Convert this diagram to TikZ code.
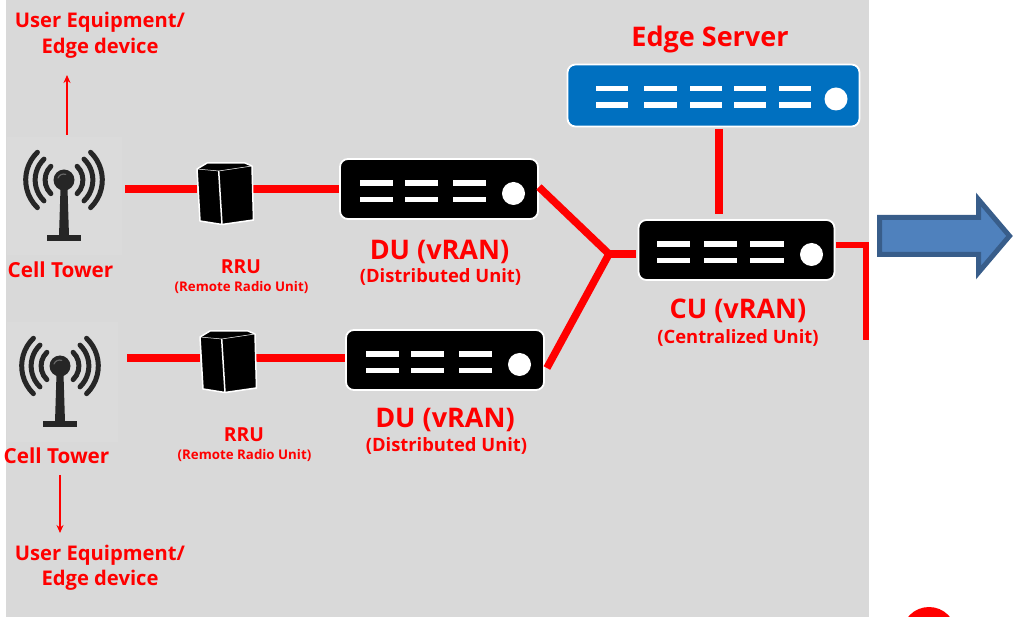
\documentclass[tikz,border=0pt]{standalone}
\usepackage{fontspec}
\setmainfont{Open Sans}
\usetikzlibrary{arrows.meta}
\definecolor{bgray}{HTML}{D9D9D9}
\definecolor{tgray}{HTML}{DBDBDB}
\definecolor{netred}{HTML}{FF0000}
\definecolor{srvblue}{HTML}{0070C0}
\definecolor{arrfill}{HTML}{4F81BD}
\definecolor{arrline}{HTML}{385D8A}
\definecolor{twr}{HTML}{262626}
\tikzset{
  x=1pt,y=-1pt,
  link/.style={draw=netred,line width=7.5pt},
  thinarrow/.style={draw=netred,line width=1.8pt,-{Stealth[length=8pt,width=7pt]}},
  srv/.style={fill=black,draw=white,line width=1.8pt,rounded corners=8pt,minimum width=#1,minimum height=60pt,inner sep=0pt},
  towerbox/.style={fill=tgray,draw=none,inner sep=0pt},
  slot/.style={minimum width=56pt,minimum height=70pt,inner sep=0pt},
  big/.style={text=netred,font=\bfseries\fontsize{27}{32}\selectfont,inner sep=0pt},
  mid/.style={text=netred,font=\bfseries\fontsize{18.4}{22}\selectfont,inner sep=0pt},
  lab/.style={text=netred,font=\bfseries\fontsize{20.2}{25.5}\selectfont,inner sep=0pt,align=center},
  rrul/.style={text=netred,font=\bfseries\fontsize{19.3}{23}\selectfont,inner sep=0pt},
  tiny/.style={text=netred,font=\bfseries\fontsize{13.3}{16}\selectfont,inner sep=0pt},
  towername/.style={text=netred,font=\bfseries\fontsize{20.7}{25}\selectfont,inner sep=0pt},
  pics/bars/.style args={#1/#2}{code={
    \foreach \a/\b in {#1}{
      \fill[white] (\a,-8.7) rectangle (\b,-3.3);
      \fill[white] (\a,7.8) rectangle (\b,13.2);
    }
    \fill[white] (#2,4.5) circle[radius=11.5];
  }},
  pics/antenna/.style={code={
    \fill[twr] (-3.5,8) -- (3.5,8) -- (5,56) -- (-5,56) -- cycle;
    \fill[twr] (-17,55) rectangle (17,61);
    \fill[twr] (0,0) circle[radius=10.5];
    \draw[gray!70!twr,line width=1.2pt,line cap=round] (-6,-2) arc[start angle=200,end angle=290,radius=6];
    \foreach \r in {19,29,38.5}{
      \draw[twr,line width=5pt,line cap=round] (-\r*0.69,-\r*0.72) arc[start angle=226,end angle=134,radius=\r];
      \draw[twr,line width=5pt,line cap=round] (\r*0.69,-\r*0.72) arc[start angle=-46,end angle=46,radius=\r];
    }
  }},
  pics/rrubox/.style={code={
    \filldraw[fill=black,draw=white,line width=1.5pt,line join=round] (-28,-20) -- (-18,-26) -- (20,-26) -- (27,-23) -- (28.5,31) -- (-3,35.5) -- (-25,32) -- cycle;
    \draw[white,line width=1.5pt] (-6.3,-18) -- (-3,35.5);
    \draw[white,line width=.5pt] (-28,-20) -- (-6.3,-18) -- (27,-23);
  }}
}
\begin{document}
\begin{tikzpicture}
\useasboundingbox (0,0) rectangle (1013,617);
\fill[white] (0,0) rectangle (1013,617);
\fill[bgray] (6,0) rectangle (869,617);

% tower tiles
\node[towerbox,minimum width=115pt,minimum height=118pt] (tw1) at (64.5,196) {};
\node[towerbox,minimum width=111pt,minimum height=120pt] (tw2) at (62.5,382) {};

% placeholders for the radio units
\node[slot] (rru1) at (225,189) {};
\node[slot] (rru2) at (228,358) {};

% servers
\node[srv=198pt] (du1) at (439,189) {};
\node[srv=198pt] (du2) at (445,360) {};
\node[srv=196pt] (cu) at (736.5,250) {};
\node[srv=292pt,fill=srvblue,minimum height=62pt] (edge) at (713.5,95.5) {};
\coordinate (hub) at (609,254);

% connectors
\draw[link] ([xshift=3pt,yshift=7pt]tw1.east) -- (rru1.west);
\draw[link] (rru1.east) -- (du1.west);
\draw[link] ([xshift=9pt]tw2.east |- rru2.west) -- (rru2.west);
\draw[link] (rru2.east) -- (rru2.east -| du2.west);
\draw[link] ([yshift=2pt]du1.east) -- (hub);
\draw[link] ([xshift=2pt,yshift=-8pt]du2.east) -- (hub);
\draw[link] (hub) -- ([yshift=-4pt,xshift=-2pt]cu.west);
\coordinate (e0) at ([xshift=5.5pt,yshift=-1.5pt]edge.south);
\coordinate (e1) at ([yshift=5pt]e0 |- cu.north);
\draw[draw=netred,line width=8pt] (e0) -- (e1);
\draw[link,line width=6.5pt,line join=miter] ([xshift=1pt,yshift=5pt]cu.east) -- (866,245) -- (866,340);

% thin arrows
\coordinate (up0) at (67,135);
\coordinate (up1) at (67,75);
\coordinate (dn0) at (60,475);
\coordinate (dn1) at (60,533);
\draw[thinarrow] (up0) -- (up1);
\draw[thinarrow] (dn0) -- (dn1);

% server faces
\path (du1) pic {bars={-79/-46,-34/-1,14/47}/74.5};
\path (du2) pic {bars={-79/-46,-34/-1,14/47}/74.5};
\path (cu) pic {bars={-80/-47,-33/0,13/47}/75};
\path (edge) ++(0,-1) pic {bars={-118/-86,-70/-37,-24/8,20/52,65/97}/122.5};

% icons
\path (64,180) pic {antenna};
\path (60,366) pic {antenna};
\path (225,189) pic {rrubox};
\path (228,357) pic {rrubox};

% labels
\node[lab] (ue1) at (100,35.5) {User Equipment/\\Edge device};
\node[lab] (ue2) at (100,568) {User Equipment/\\Edge device};
\node[towername] (ct1) at (60.5,269.5) {Cell Tower};
\node[towername] (ct2) at (56.5,455.5) {Cell Tower};
\node[rrul] (rl1) at (241,267) {RRU};
\node[tiny] (rs1) at (241.5,287.5) {(Remote Radio Unit)};
\node[rrul] (rl2) at (244,435) {RRU};
\node[tiny] (rs2) at (244.5,455.5) {(Remote Radio Unit)};
\node[big] (dl1) at (439.5,251.5) {DU (vRAN)};
\node[mid] (ds1) at (440.5,277) {(Distributed Unit)};
\node[big] (dl2) at (445,419.5) {DU (vRAN)};
\node[mid] (ds2) at (446.5,446) {(Distributed Unit)};
\node[big] (cl) at (738,310.5) {CU (vRAN)};
\node[mid] (cs) at (738,338) {(Centralized Unit)};
\node[big] (el) at (710,39) {Edge Server};

% block arrow
\filldraw[fill=arrfill,draw=arrline,line width=5pt,line join=miter]
  (879.5,217.5) -- (978.5,217.5) -- (978.5,199.5) -- (1009.5,236) -- (978.5,272.5) -- (978.5,254.5) -- (879.5,254.5) -- cycle;

% red disc at the lower edge
\begin{scope}
\clip (0,0) rectangle (1013,617);
\fill[netred] (929,634) circle[radius=27];
\end{scope}
\end{tikzpicture}
\end{document}
